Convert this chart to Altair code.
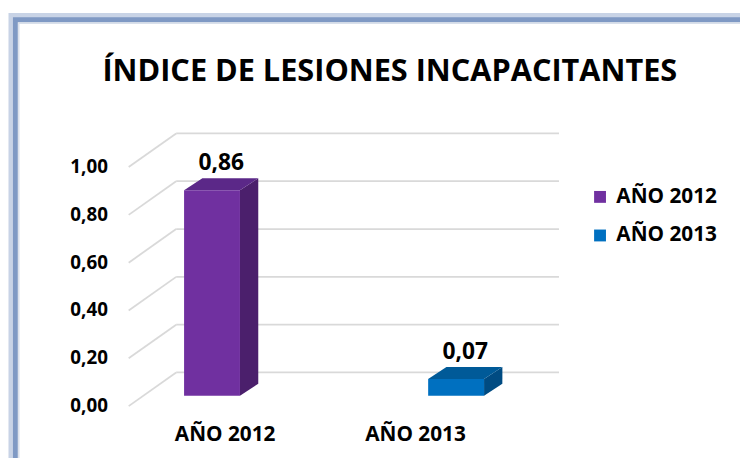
import altair as alt
import pandas as pd

# ---- data ----
CATEGORIES = ["AÑO 2012", "AÑO 2013"]
VALUES = [0.86, 0.07]
TICKS = [0.0, 0.2, 0.4, 0.6, 0.8, 1.0]
TITLE = "ÍNDICE DE LESIONES INCAPACITANTES"

# ---- styles ----
FRONT_COLORS = ["#7030a0", "#0070c0"]
SIDE_COLORS = ["#4b1f6c", "#004b82"]
TOP_COLORS = ["#5b2888", "#005a98"]
GRID = "#d9d9d9"
FONT = "Open Sans"

W, H = 435, 290
Y_MAX = 1.2
PX_Y = H / Y_MAX
X_ORIGIN = 84.25
X_STEP = 246.75
X_DOMAIN = [-X_ORIGIN / X_STEP, (W - X_ORIGIN) / X_STEP]
HALF_W = 28.25 / X_STEP
DEPTH_X = 18.5 / X_STEP
DEPTH_Y = 12 / PX_Y
BASE = 10.5 / PX_Y
WALL_DX, WALL_DY = 48, 34

idx = list(range(len(CATEGORIES)))
bars = pd.DataFrame({"cat": CATEGORIES, "i": idx, "v": VALUES})
bars["x0"] = bars["i"] - HALF_W
bars["x1"] = bars["i"] + HALF_W
bars["yb"] = BASE
bars["yt"] = BASE + bars["v"]
bars["lx"] = bars["i"] + DEPTH_X / 2
bars["ly"] = bars["yt"] + DEPTH_Y
bars["label"] = [f"{v:.2f}".replace(".", ",") for v in VALUES]

side_rows, top_rows = [], []
for r in bars.to_dict("records"):
    side_rows.append({"cat": r["cat"], "x": r["x1"], "lo": r["yb"], "hi": r["yt"]})
    side_rows.append({"cat": r["cat"], "x": r["x1"] + DEPTH_X, "lo": r["yb"] + DEPTH_Y, "hi": r["yt"] + DEPTH_Y})
    top_rows.append({"cat": r["cat"], "y": r["yt"], "xa": r["x0"], "xb": r["x1"]})
    top_rows.append({"cat": r["cat"], "y": r["yt"] + DEPTH_Y, "xa": r["x0"] + DEPTH_X, "xb": r["x1"] + DEPTH_X})
side = pd.DataFrame(side_rows)
top = pd.DataFrame(top_rows)
grid = pd.DataFrame({"t": TICKS})
grid["lab"] = [f"{t:.2f}".replace(".", ",") for t in TICKS]
one = pd.DataFrame({"k": [0]})

xs = alt.Scale(domain=X_DOMAIN, nice=False, zero=False)
ys = alt.Scale(domain=[0, Y_MAX], nice=False)

frame_shadow = alt.Chart(one).mark_rect(fillOpacity=0, stroke="#c8d3e6", strokeWidth=11).encode(
    x=alt.value(-116), x2=alt.value(650), y=alt.value(-102), y2=alt.value(370))
frame = alt.Chart(one).mark_rect(fillOpacity=0, stroke="#7f99c4", strokeWidth=5).encode(
    x=alt.value(-114.5), x2=alt.value(650), y=alt.value(-100.5), y2=alt.value(370))
frame_inner = alt.Chart(one).mark_rect(fillOpacity=0, stroke="#dde2ea", strokeWidth=1.2).encode(
    x=alt.value(-111.5), x2=alt.value(650), y=alt.value(-97.5), y2=alt.value(370))

diag = alt.Chart(grid).mark_rule(color=GRID, strokeWidth=1.8, y2Offset=-WALL_DY).encode(
    x=alt.value(0), x2=alt.value(WALL_DX),
    y=alt.Y("t:Q", scale=ys, axis=None), y2="t:Q")
wall = alt.Chart(grid).mark_rule(color=GRID, strokeWidth=1.8, yOffset=-WALL_DY).encode(
    x=alt.value(WALL_DX), x2=alt.value(W), y=alt.Y("t:Q", scale=ys, axis=None))
ylabels = alt.Chart(grid).mark_text(font=FONT, fontSize=19, fontWeight="bold", color="black",
                                    align="right", baseline="middle", dx=-21).encode(
    x=alt.value(0), y=alt.Y("t:Q", scale=ys, axis=None), text="lab:N")

side_l = alt.Chart(side).mark_area().encode(
    x=alt.X("x:Q", scale=xs, axis=None),
    y=alt.Y("lo:Q", scale=ys, axis=None, stack=None), y2="hi:Q",
    color=alt.Color("cat:N", scale=alt.Scale(domain=CATEGORIES, range=SIDE_COLORS), legend=None))
top_l = alt.Chart(top).mark_area(orient="horizontal").encode(
    y=alt.Y("y:Q", scale=ys, axis=None),
    x=alt.X("xa:Q", scale=xs, axis=None, stack=None), x2="xb:Q",
    color=alt.Color("cat:N", scale=alt.Scale(domain=CATEGORIES, range=TOP_COLORS), legend=None))
front = alt.Chart(bars).mark_bar().encode(
    x=alt.X("x0:Q", scale=xs, axis=None), x2="x1:Q",
    y=alt.Y("yb:Q", scale=ys, axis=None), y2="yt:Q",
    color=alt.Color("cat:N", scale=alt.Scale(domain=CATEGORIES, range=FRONT_COLORS),
                    legend=alt.Legend(title=None, orient="none", legendX=466, legendY=68,
                                      symbolType="square", symbolSize=144, symbolStrokeWidth=0,
                                      labelFont=FONT, labelFontSize=21, labelFontWeight="bold",
                                      labelColor="black", rowPadding=17, labelOffset=6, padding=0)))
vlabels = alt.Chart(bars).mark_text(font=FONT, fontSize=23, fontWeight="bold", color="black",
                                    dy=-8, baseline="alphabetic").encode(
    x=alt.X("lx:Q", scale=xs, axis=None), y=alt.Y("ly:Q", scale=ys, axis=None), text="label:N")
xlabels = alt.Chart(bars).mark_text(font=FONT, fontSize=21, fontWeight="bold", color="black",
                                    baseline="middle").encode(
    x=alt.X("cat:N", scale=alt.Scale(type="point", domain=CATEGORIES, range=[97.5, 290], padding=0),
            axis=None),
    y=alt.value(H + 29.5), text="cat:N")
title = alt.Chart(one).mark_text(text=TITLE, font=FONT, fontSize=31, fontWeight="bold",
                                 color="black", baseline="middle").encode(
    x=alt.value(264), y=alt.value(-48))

chart = alt.layer(frame_shadow, frame, frame_inner, diag, wall, ylabels, side_l, top_l, front,
                  vlabels, xlabels, title).resolve_scale(
    x="independent", color="independent"
).properties(
    width=W, height=H,
    background="white",
    padding={"left": 122, "top": 110, "right": 183, "bottom": 50},
    autosize=alt.AutoSizeParams(type="none"),
).configure_view(stroke="transparent", strokeWidth=0)

chart.save("out.html", embed_options={"renderer": "svg", "actions": False})
